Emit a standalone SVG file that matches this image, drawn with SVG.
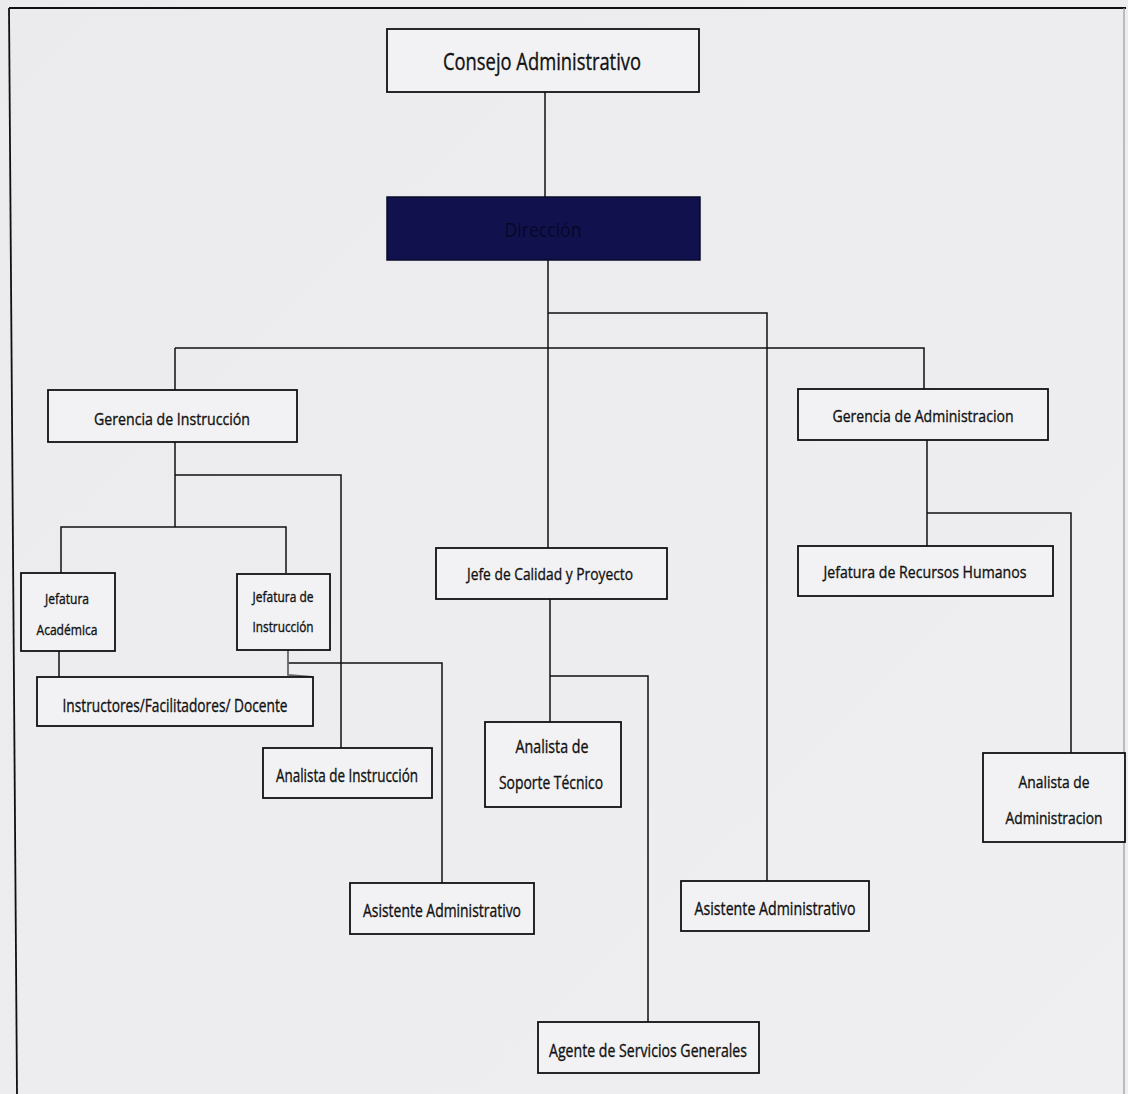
<svg xmlns="http://www.w3.org/2000/svg" width="1128" height="1094" viewBox="0 0 1128 1094">
<defs>
<style>
.box{fill:#f2f2f4;stroke:#111;stroke-width:1.8}
.t{font-family:"Open Sans","Liberation Sans",sans-serif;fill:#111;stroke:#111;stroke-width:0.35;text-anchor:middle}
.c{fill:none;stroke:#111;stroke-width:1.5}
</style>
<linearGradient id="bg" x1="0" y1="0" x2="1" y2="1">
<stop offset="0" stop-color="#ebebee"/>
<stop offset="0.5" stop-color="#ededf0"/>
<stop offset="1" stop-color="#efeff1"/>
</linearGradient>
</defs>
<rect x="0" y="0" width="1128" height="1094" fill="url(#bg)"/>
<g id="frame">
<line x1="9" y1="8" x2="1126" y2="8" stroke="#111" stroke-width="1.8"/>
<line x1="9" y1="8" x2="17" y2="1094" stroke="#111" stroke-width="1.8"/>
<line x1="1124" y1="8" x2="1124" y2="1094" stroke="#999" stroke-width="1.2"/>
</g>
<g id="connectors">
<path class="c" d="M545 92V197"/>
<path class="c" d="M548 260V548"/>
<path class="c" d="M548 313H767V881" stroke-width="2"/>
<path class="c" d="M175 348H924V390" stroke-width="2.5"/>
<path class="c" d="M175 348V391"/>
<path class="c" d="M175 442V527"/>
<path class="c" d="M175 475H341V748"/>
<path class="c" d="M61 573V527H286V573"/>
<path class="c" d="M59 651V677"/>
<path class="c" d="M288 663H442V883"/>
<path d="M288 650V675L312 677" fill="none" stroke="#666" stroke-width="1.8"/>
<path class="c" d="M550 599V722"/>
<path class="c" d="M550 676H648V1022"/>
<path class="c" d="M927 440V546"/>
<path class="c" d="M927 513H1071V753"/>
</g>
<g id="consejo">
<rect class="box" x="387" y="29" width="312" height="63" fill="#f4f4f6"/>
<text class="t" x="542" y="70" font-size="24" textLength="198" lengthAdjust="spacingAndGlyphs">Consejo Administrativo</text>
</g>
<g id="direccion">
<rect x="387" y="197" width="313" height="63" fill="#11124d" stroke="#0a0a2a" stroke-width="1.5"/>
<text class="t" x="543" y="237" font-size="20" style="fill:#07072a;stroke:none" textLength="77" lengthAdjust="spacingAndGlyphs">Dirección</text>
</g>
<g id="gerencia-instruccion">
<rect class="box" x="48" y="390" width="249" height="52"/>
<text class="t" x="172" y="425" font-size="17" textLength="156" lengthAdjust="spacingAndGlyphs">Gerencia de Instrucción</text>
</g>
<g id="gerencia-administracion">
<rect class="box" x="798" y="389" width="250" height="51"/>
<text class="t" x="923" y="422" font-size="17" textLength="181" lengthAdjust="spacingAndGlyphs">Gerencia de Administracion</text>
</g>
<g id="jefatura-academica">
<rect class="box" x="21" y="573" width="94" height="78"/>
<text class="t" x="67" y="604" font-size="14" textLength="44" lengthAdjust="spacingAndGlyphs">Jefatura</text>
<text class="t" x="67" y="635" font-size="14" textLength="61" lengthAdjust="spacingAndGlyphs">Académica</text>
</g>
<g id="jefatura-instruccion">
<rect class="box" x="237" y="574" width="93" height="76"/>
<text class="t" x="283" y="602" font-size="14" textLength="61" lengthAdjust="spacingAndGlyphs">Jefatura de</text>
<text class="t" x="283" y="632" font-size="14" textLength="61" lengthAdjust="spacingAndGlyphs">Instrucción</text>
</g>
<g id="instructores">
<rect class="box" x="37" y="677" width="276" height="49"/>
<text class="t" x="175" y="712" font-size="19" textLength="225" lengthAdjust="spacingAndGlyphs">Instructores/Facilitadores/ Docente</text>
</g>
<g id="analista-instruccion">
<rect class="box" x="263" y="748" width="169" height="50"/>
<text class="t" x="347" y="782" font-size="18" textLength="142" lengthAdjust="spacingAndGlyphs">Analista de Instrucción</text>
</g>
<g id="jefe-calidad">
<rect class="box" x="436" y="548" width="231" height="51"/>
<text class="t" x="550" y="580" font-size="17" textLength="166" lengthAdjust="spacingAndGlyphs">Jefe de Calidad y Proyecto</text>
</g>
<g id="analista-soporte">
<rect class="box" x="485" y="722" width="136" height="85"/>
<text class="t" x="552" y="753" font-size="18" textLength="73" lengthAdjust="spacingAndGlyphs">Analista de</text>
<text class="t" x="551" y="789" font-size="18" textLength="104" lengthAdjust="spacingAndGlyphs">Soporte Técnico</text>
</g>
<g id="jefatura-rrhh">
<rect class="box" x="798" y="546" width="255" height="50"/>
<text class="t" x="925" y="578" font-size="17" textLength="203" lengthAdjust="spacingAndGlyphs">Jefatura de Recursos Humanos</text>
</g>
<g id="analista-administracion">
<rect class="box" x="983" y="753" width="142" height="89"/>
<text class="t" x="1054" y="788" font-size="17" textLength="71" lengthAdjust="spacingAndGlyphs">Analista de</text>
<text class="t" x="1054" y="824" font-size="16" textLength="97" lengthAdjust="spacingAndGlyphs">Administracion</text>
</g>
<g id="asistente-izq">
<rect class="box" x="350" y="883" width="184" height="51"/>
<text class="t" x="442" y="917" font-size="18" textLength="158" lengthAdjust="spacingAndGlyphs">Asistente Administrativo</text>
</g>
<g id="asistente-der">
<rect class="box" x="681" y="881" width="188" height="50"/>
<text class="t" x="775" y="915" font-size="18" textLength="161" lengthAdjust="spacingAndGlyphs">Asistente Administrativo</text>
</g>
<g id="agente">
<rect class="box" x="538" y="1022" width="221" height="51"/>
<text class="t" x="648" y="1057" font-size="18" textLength="198" lengthAdjust="spacingAndGlyphs">Agente de Servicios Generales</text>
</g>
</svg>
